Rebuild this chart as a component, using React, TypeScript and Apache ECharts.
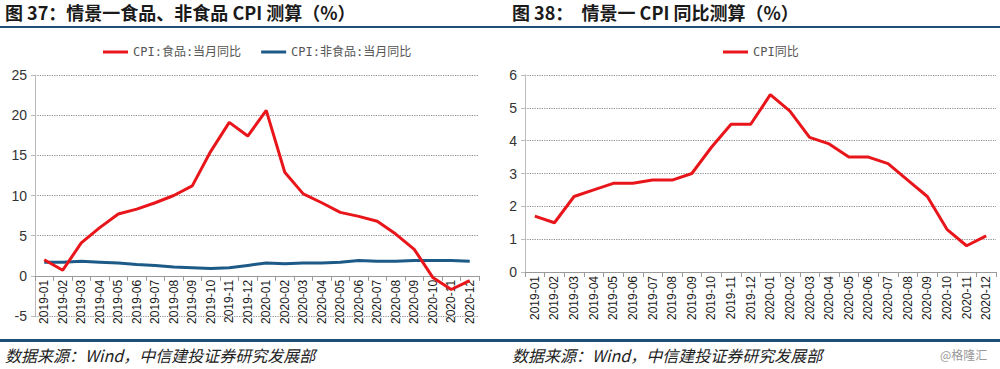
import React, { useEffect, useRef } from "react";
import * as echarts from "echarts";

const months = [
  "2019-01", "2019-02", "2019-03", "2019-04", "2019-05", "2019-06",
  "2019-07", "2019-08", "2019-09", "2019-10", "2019-11", "2019-12",
  "2020-01", "2020-02", "2020-03", "2020-04", "2020-05", "2020-06",
  "2020-07", "2020-08", "2020-09", "2020-10", "2020-11", "2020-12",
];

const foodCpi = [2.0, 0.7, 4.1, 6.0, 7.7, 8.3, 9.1, 10.0, 11.2, 15.5, 19.1, 17.4, 20.6, 12.9, 10.2, 9.1, 7.9, 7.4, 6.8, 5.2, 3.3, -0.2, -1.7, -0.6];
const nonFoodCpi = [1.7, 1.7, 1.8, 1.7, 1.6, 1.4, 1.3, 1.1, 1.0, 0.9, 1.0, 1.3, 1.6, 1.5, 1.6, 1.6, 1.7, 1.9, 1.8, 1.8, 1.9, 1.9, 1.9, 1.8];
const cpiYoy = [1.7, 1.5, 2.3, 2.5, 2.7, 2.7, 2.8, 2.8, 3.0, 3.8, 4.5, 4.5, 5.4, 4.9, 4.1, 3.9, 3.5, 3.5, 3.3, 2.8, 2.3, 1.3, 0.8, 1.1];

const leftTitle = "图 37：情景一食品、非食品 CPI 测算（%）";
const rightTitle = "图 38：  情景一 CPI 同比测算（%）";
const sourceText = "数据来源：Wind，中信建投证券研究发展部";
const watermark = "@格隆汇";

const RED = "#e8161b";
const BLUE = "#1d5a87";
const LINE_BLUE = "#1f4e79";
const CJK = "'Noto Sans CJK SC', 'Noto Sans', sans-serif";
const LEG = "'DejaVu Sans Mono', 'Noto Sans CJK SC', monospace";
const LAT = "'Liberation Sans', Arial, sans-serif";

const LEFT_TOP = 75;
const LEFT_BOTTOM = 53;
const LEFT_MIN = -5;
const LEFT_MAX = 25;

export default function App() {
  const ref = useRef<HTMLDivElement>(null);
  useEffect(() => {
    if (!ref.current) return;
    const chart = echarts.init(ref.current, undefined, { renderer: "svg" });
    const leftHeight = 369 - LEFT_TOP - LEFT_BOTTOM;
    const zeroOffset = (leftHeight * (0 - LEFT_MIN)) / (LEFT_MAX - LEFT_MIN);
    const xAxisCommon = (gridIndex: number, offset: number) => ({
      type: "category" as const,
      gridIndex,
      data: months,
      boundaryGap: true,
      position: "bottom" as const,
      offset,
      axisLine: { show: true, onZero: false, lineStyle: { color: "#9a9a9a", width: 1 } },
      axisTick: { show: true, length: 5, lineStyle: { color: "#9a9a9a" } },
      axisLabel: {
        rotate: 90,
        interval: 0,
        fontSize: 12,
        fontFamily: LAT,
        color: "#1a1a1a",
        margin: 4,
      },
      splitLine: { show: false },
    });
    const yAxisCommon = (gridIndex: number, min: number, max: number, interval: number) => ({
      type: "value" as const,
      gridIndex,
      min,
      max,
      interval,
      axisLine: { show: true, lineStyle: { color: "#bbbbbb" } },
      axisTick: { show: true, length: 4, lineStyle: { color: "#bbbbbb" } },
      axisLabel: { fontSize: 14, fontFamily: LAT, color: "#333", margin: 8 },
      splitLine: { show: true, lineStyle: { color: "#8c8c8c", type: "dotted", width: 1.2 } },
    });
    chart.setOption({
      animation: false,
      backgroundColor: "#ffffff",
      grid: [
        { left: 35, right: 521, top: LEFT_TOP, bottom: LEFT_BOTTOM },
        { left: 525, right: 4, top: 75, bottom: 97 },
      ],
      legend: [
        {
          data: ["CPI:食品:当月同比", "CPI:非食品:当月同比"],
          left: 98,
          top: 41,
          itemWidth: 25,
          itemHeight: 3,
          itemGap: 20,
          icon: "rect",
          textStyle: { fontSize: 12, fontFamily: LEG, color: "#555" },
        },
        {
          data: ["CPI同比"],
          left: 718,
          top: 41,
          itemWidth: 25,
          itemHeight: 3,
          icon: "rect",
          textStyle: { fontSize: 12, fontFamily: LEG, color: "#555" },
        },
      ],
      xAxis: [xAxisCommon(0, -zeroOffset), xAxisCommon(1, 0)],
      yAxis: [yAxisCommon(0, LEFT_MIN, LEFT_MAX, 5), yAxisCommon(1, 0, 6, 1)],
      series: [
        {
          name: "CPI:食品:当月同比",
          type: "line",
          xAxisIndex: 0,
          yAxisIndex: 0,
          data: foodCpi,
          showSymbol: false,
          lineStyle: { color: RED, width: 3 },
          itemStyle: { color: RED },
          z: 3,
        },
        {
          name: "CPI:非食品:当月同比",
          type: "line",
          xAxisIndex: 0,
          yAxisIndex: 0,
          data: nonFoodCpi,
          showSymbol: false,
          lineStyle: { color: BLUE, width: 3 },
          itemStyle: { color: BLUE },
          z: 2,
        },
        {
          name: "CPI同比",
          type: "line",
          xAxisIndex: 1,
          yAxisIndex: 1,
          data: cpiYoy,
          showSymbol: false,
          lineStyle: { color: RED, width: 3 },
          itemStyle: { color: RED },
        },
      ],
      graphic: [
        {
          type: "text",
          left: 5,
          top: 3,
          style: { text: leftTitle, font: `bold 18px ${CJK}`, fill: "#1a1a1a" },
        },
        {
          type: "text",
          left: 512,
          top: 3,
          style: { text: rightTitle, font: `bold 18px ${CJK}`, fill: "#1a1a1a" },
        },
        {
          type: "rect",
          shape: { x: 0, y: 26, width: 1000, height: 2 },
          style: { fill: LINE_BLUE },
        },
        {
          type: "rect",
          shape: { x: 0, y: 339, width: 1000, height: 3 },
          style: { fill: LINE_BLUE },
        },
        {
          type: "text",
          left: 5,
          top: 347,
          style: { text: sourceText, font: `italic 16px ${CJK}`, fill: "#222" },
        },
        {
          type: "text",
          left: 512,
          top: 347,
          style: { text: sourceText, font: `italic 16px ${CJK}`, fill: "#222" },
        },
        {
          type: "text",
          left: 940,
          top: 348,
          style: { text: watermark, font: `12px ${CJK}`, fill: "#999" },
        },
      ],
    });
    return () => chart.dispose();
  }, []);
  return (
    <div
      ref={ref}
      style={{ position: "absolute", left: 0, top: 0, width: 1000, height: 369 }}
    />
  );
}
